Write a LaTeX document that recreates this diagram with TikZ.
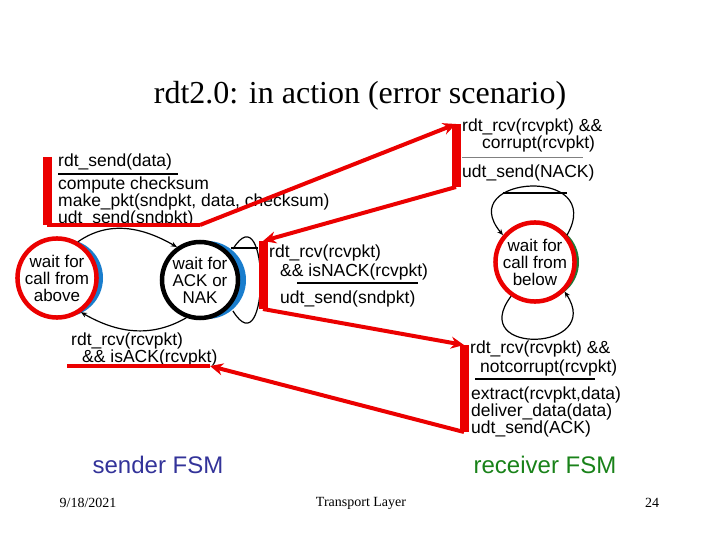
\documentclass[tikz,border=0pt]{standalone}
\usepackage{fontspec}
\setmainfont{Liberation Serif}
\newfontfamily\labfont{Liberation Sans}
\usetikzlibrary{calc}
\usetikzlibrary{arrows.meta}

\definecolor{sendblue}{RGB}{51,51,153}
\definecolor{recvgreen}{RGB}{25,130,25}
\definecolor{shadeblue}{RGB}{25,125,205}
\definecolor{shadegreen}{RGB}{30,120,55}
\definecolor{hotred}{RGB}{235,0,0}

\tikzset{
  lab/.style={anchor=base west, inner sep=0pt, font=\labfont\fontsize{17.5}{17}\selectfont},
  state/.style={circle, minimum size=76pt, inner sep=0pt, line width=4.5pt, fill=white,
    align=center, font=\labfont\fontsize{17}{17}\selectfont},
  rule/.style={line width=1.8pt},
  redbar/.style={hotred, line width=9pt},
  redline/.style={hotred, line width=4pt},
  redarrow/.style={hotred, line width=4pt, -{Stealth[length=13pt,width=12pt]}},
  trans/.style={line width=1.2pt, -{Stealth[length=6pt,width=5pt]}},
  fsm/.style={font=\labfont\fontsize{24}{26}\selectfont},
  foot/.style={font=\fontsize{14}{16}\selectfont}
}

\begin{document}
\begin{tikzpicture}[x=1pt,y=-1pt]
  \useasboundingbox (0,0) rectangle (720,540);
  \node[font=\fontsize{32}{36}\selectfont] (title) at (360,96) {rdt2.0: in action (error scenario)};

  % sender states
  \coordinate (wfac) at (57,278);
  \coordinate (wackc) at (200,280);
  \fill[shadeblue] ($(wfac)+(7,0)$) circle (39pt);
  \fill[shadeblue] ($(wackc)+(7,0)$) circle (39pt);
  \node[state, draw=hotred] (wfa) at (wfac) {wait for\\call from\\above};
  \node[state, draw=black] (wack) at (wackc) {wait for\\ACK or\\NAK};
  \draw[trans] (wfa.60) to[out=35,in=150] (wack.125);
  \draw[trans] (wack.-110) to[out=-150,in=-30] (wfa.-55);
  \draw[line width=1.2pt] ($(wack.50)+(7,0)$) .. controls +(37,-60) and +(37,60) .. ($(wack.-50)+(7,0)$);
  \draw[line width=1.2pt] (231,248) -- (258,248);

  % receiver state
  \coordinate (wcbc) at (535,262);
  \fill[shadegreen] ($(wcbc)+(6,0)$) circle (38pt);
  \node[state, draw=hotred] (wcb) at (wcbc) {wait for\\call from\\below};
  \draw[trans] (wcb.40) .. controls +(40,-70) and +(-50,-60) .. (wcb.140);
  \draw[line width=1.2pt] (503,193) -- (567,193);
  \draw[trans] (wcb.-125) .. controls +(-45,60) and +(40,60) .. (wcb.-45);

  % sender labels
  \node[lab] (sendev) at (58,167) {rdt\_send(data)};
  \draw[rule] (58,174) -- (178,174);
  \node[lab] (sendact1) at (58,190) {compute checksum};
  \node[lab] (sendact2) at (58,207) {make\_pkt(sndpkt, data, checksum)};
  \node[lab] (sendact3) at (58,224) {udt\_send(sndpkt)};

  \node[lab] (ackev1) at (71,345) {rdt\_rcv(rcvpkt)};
  \node[lab] (ackev2) at (82,362) {\&\& isACK(rcvpkt)};

  \node[lab] (nakev1) at (269,258) {rdt\_rcv(rcvpkt)};
  \node[lab] (nakev2) at (280,276) {\&\& isNACK(rcvpkt)};
  \draw[rule] (297,283) -- (418,283);
  \node[lab] (nakact) at (280,303) {udt\_send(sndpkt)};

  % receiver labels
  \node[lab] (corev1) at (462,132) {rdt\_rcv(rcvpkt) \&\&};
  \node[lab] (corev2) at (482,149) {corrupt(rcvpkt)};
  \draw[gray, line width=0.8pt] (462,157) -- (583,157);
  \node[lab] (coract) at (462,178) {udt\_send(NACK)};

  \node[lab] (okev1) at (470,353) {rdt\_rcv(rcvpkt) \&\&};
  \node[lab] (okev2) at (480,372) {notcorrupt(rcvpkt)};
  \draw[rule] (475,379) -- (595,379);
  \node[lab] (okact1) at (471,399) {extract(rcvpkt,data)};
  \node[lab] (okact2) at (471,416) {deliver\_data(data)};
  \node[lab] (okact3) at (471,433) {udt\_send(ACK)};

  % red message flow
  \coordinate (sendtop) at (47,157);
  \coordinate (sendbot) at (47,225);
  \coordinate (sendend) at (200,225);
  \coordinate (cortop) at (456,124);
  \coordinate (corbot) at (456,187);
  \coordinate (naktop) at (263,241);
  \coordinate (nakbot) at (263,309);
  \coordinate (oktop) at (464,345);
  \coordinate (okbot) at (464,432);
  \coordinate (ackstart) at (67,366);
  \coordinate (ackend) at (210,366);
  \draw[redbar] (sendtop) -- (sendbot);
  \draw[redline] (sendbot) -- (sendend);
  \draw[redarrow] (sendend) -- (cortop);
  \draw[redbar] (cortop) -- (corbot);
  \draw[redarrow] (corbot) -- (naktop);
  \draw[redbar] (naktop) -- (nakbot);
  \draw[redarrow] (nakbot) -- (oktop);
  \draw[redbar] (oktop) -- (okbot);
  \draw[redarrow] (okbot) -- (ackend);
  \draw[redline] (ackstart) -- (ackend);

  % captions and footer
  \node[fsm, text=sendblue] (sendcap) at (158,465) {sender FSM};
  \node[fsm, text=recvgreen] (recvcap) at (545,465) {receiver FSM};
  \node[foot] (date) at (88,503) {9/18/2021};
  \node[foot] (layer) at (361,503) {Transport Layer};
  \node[foot] (page) at (652,503) {24};
\end{tikzpicture}
\end{document}
